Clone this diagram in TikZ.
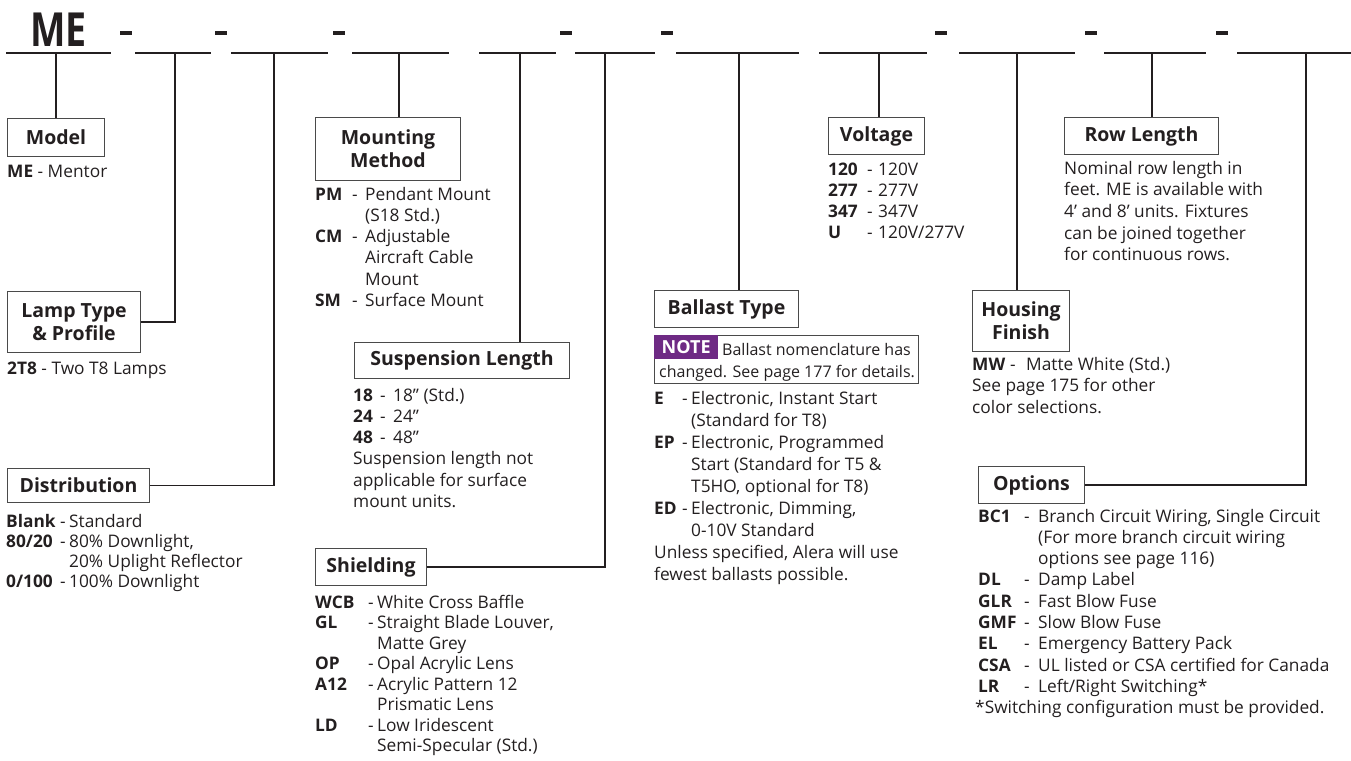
\documentclass[tikz,border=0pt]{standalone}
\usepackage{fontspec}
\setmainfont{Open Sans}
\usetikzlibrary{positioning}

\definecolor{ink}{HTML}{231F20}
\definecolor{boxline}{HTML}{4A4A4A}
\definecolor{notepurple}{HTML}{6E2A84}

\tikzset{
  hbox/.style={draw=boxline, line width=1pt, inner sep=0pt, anchor=north west,
    align=center, text=ink, font=\bfseries\fontsize{19.5}{23}\selectfont},
  lst/.style={inner sep=0pt, anchor=base west, text=ink, font=\fontsize{17.3}{#1}\selectfont},
  lst/.default=21.3,
  notetxt/.style={inner sep=0pt, anchor=base west, text=ink, font=\fontsize{16}{20}\selectfont},
  bar/.style={draw=ink, line width=2pt},
  link/.style={draw=ink, line width=1.8pt},
}

\begin{document}
\begin{tikzpicture}[x=1pt, y=-1pt]
  \useasboundingbox (0,0) rectangle (1351,760);

  % catalogue number line
  \node[anchor=base west, inner sep=0pt, text=ink, font=\bfseries\fontsize{47}{47}\selectfont]
    (me) at (30,47) {\scalebox{0.8}[1]{ME}};
  \foreach \a/\b in {6/111, 135/211, 231/328, 352/449, 479/556, 575/655,
                     676/799, 819/927, 959/1075, 1104/1206, 1237/1351}
    \draw[bar] (\a,53) -- (\b,53);
  \foreach \x in {120, 215, 333, 560, 661, 935, 1085, 1216}
    \fill[ink] (\x,31) rectangle ++(12,4);

  % stems
  \foreach \n/\x in {b1/56, b2/175, b3/274, b4/399, b5/520, b6/605,
                     b7/739, b8/879, b9/1017, b10/1152, b11/1306}
    \coordinate (\n) at (\x,53);

  % heading boxes
  \node[hbox, minimum width=97, minimum height=38] (model) at (7,118) {Model};
  \node[hbox, minimum width=133, minimum height=61] (lamp) at (7,291) {Lamp Type\\ \& Profile};
  \node[hbox, minimum width=142, minimum height=34] (distr) at (7,468) {Distribution};
  \node[hbox, minimum width=145, minimum height=63] (mount) at (315,117) {Mounting\\ Method};
  \node[hbox, minimum width=215, minimum height=36] (susp) at (354,342) {Suspension Length};
  \node[hbox, minimum width=111, minimum height=37] (shield) at (315,548) {Shielding};
  \node[hbox, minimum width=144, minimum height=37] (ballast) at (654,290) {Ballast Type};
  \node[hbox, minimum width=96, minimum height=37] (volt) at (828,117) {Voltage};
  \node[hbox, minimum width=97, minimum height=61] (house) at (972,290) {Housing\\ Finish};
  \node[hbox, minimum width=154, minimum height=37] (row) at (1064,117) {Row Length};
  \node[hbox, minimum width=106, minimum height=37] (opts) at (978,466) {Options};

  % connectors
  \draw[link] (b1) -- (b1 |- model.north);
  \draw[link] (lamp.east) -| (b2);
  \draw[link] (distr.east) -| (b3);
  \draw[link] (b4) -- (b4 |- mount.north);
  \draw[link] (b5) -- (b5 |- susp.north);
  \draw[link] (shield.east) -| (b6);
  \draw[link] (b7) -- (b7 |- ballast.north);
  \draw[link] (b8) -- (b8 |- volt.north);
  \draw[link] (b9) -- (b9 |- house.north);
  \draw[link] (b10) -- (b10 |- row.north);
  \draw[link] (opts.east) -| (b11);

  % lists
  \node[lst] (modell) at (7,177) {\textbf{ME} - Mentor};
  \node[lst] (lampl) at (7,374) {\textbf{2T8} - Two T8 Lamps};
  \node[lst=20] (distrl) at (6,527) {\begin{tabular}[t]{@{}p{54pt}@{}p{9pt}@{}l@{}}
    \textbf{Blank} & - & Standard\\
    \textbf{80/20} & - & 80\% Downlight,\\
     & & 20\% Uplight Reflector\\
    \textbf{0/100} & - & 100\% Downlight
  \end{tabular}};
  \node[lst] (mountl) at (315,200) {\begin{tabular}[t]{@{}p{37pt}@{}p{13pt}@{}l@{}}
    \textbf{PM} & - & Pendant Mount\\
     & & (S18 Std.)\\
    \textbf{CM} & - & Adjustable\\
     & & Aircraft Cable\\
     & & Mount\\
    \textbf{SM} & - & Surface Mount
  \end{tabular}};
  \node[lst] (suspl) at (353,401) {\begin{tabular}[t]{@{}p{27pt}@{}p{13pt}@{}l@{}}
    \textbf{18} & - & 18” (Std.)\\
    \textbf{24} & - & 24”\\
    \textbf{48} & - & 48”\\
    \multicolumn{3}{@{}l@{}}{Suspension length not}\\
    \multicolumn{3}{@{}l@{}}{applicable for surface}\\
    \multicolumn{3}{@{}l@{}}{mount units.}
  \end{tabular}};
  \node[lst=20.5] (shieldl) at (315,608) {\begin{tabular}[t]{@{}p{53pt}@{}p{9pt}@{}l@{}}
    \textbf{WCB} & - & White Cross Baffle\\
    \textbf{GL} & - & Straight Blade Louver,\\
     & & Matte Grey\\
    \textbf{OP} & - & Opal Acrylic Lens\\
    \textbf{A12} & - & Acrylic Pattern 12\\
     & & Prismatic Lens\\
    \textbf{LD} & - & Low Iridescent\\
     & & Semi-Specular (Std.)
  \end{tabular}};
  \node[lst=21] (voltl) at (828,175) {\begin{tabular}[t]{@{}p{39pt}@{}p{11pt}@{}l@{}}
    \textbf{120} & - & 120V\\
    \textbf{277} & - & 277V\\
    \textbf{347} & - & 347V\\
    \textbf{U} & - & 120V/277V
  \end{tabular}};

  % note under ballast type
  \node[draw=boxline, line width=1pt, inner sep=0pt, anchor=north west,
    minimum width=264, minimum height=48] (note) at (654,335) {};
  \node[fill=notepurple, text=white, inner sep=0pt, anchor=north west,
    minimum width=64, minimum height=24, font=\bfseries\fontsize{18}{18}\selectfont]
    (tag) at (note.north west) {NOTE};
  \node[notetxt] (notea) at (722,355) {Ballast nomenclature has};
  \node[notetxt] (noteb) at (659,377) {changed. See page 177 for details.};

  \node[lst=22] (ballastl) at (654,404) {\begin{tabular}[t]{@{}p{28pt}@{}p{9pt}@{}l@{}}
    \textbf{E} & - & Electronic, Instant Start\\
     & & (Standard for T8)\\
    \textbf{EP} & - & Electronic, Programmed\\
     & & Start (Standard for T5 \&\\
     & & T5HO, optional for T8)\\
    \textbf{ED} & - & Electronic, Dimming,\\
     & & 0-10V Standard\\
    \multicolumn{3}{@{}l@{}}{Unless specified, Alera will use}\\
    \multicolumn{3}{@{}l@{}}{fewest ballasts possible.}
  \end{tabular}};
  \node[lst=21.7] (rowl) at (1064,174) {\begin{tabular}[t]{@{}l@{}}
    Nominal row length in\\
    feet. ME is available with\\
    4’ and 8’ units. Fixtures\\
    can be joined together\\
    for continuous rows.
  \end{tabular}};
  \node[lst=21.7] (housel) at (972,370) {\begin{tabular}[t]{@{}p{38pt}@{}p{16pt}@{}l@{}}
    \textbf{MW} & - & Matte White (Std.)\\
    \multicolumn{3}{@{}l@{}}{See page 175 for other}\\
    \multicolumn{3}{@{}l@{}}{color selections.}
  \end{tabular}};
  \node[lst=21.3] (optsl) at (978,522) {\begin{tabular}[t]{@{}p{46pt}@{}p{14pt}@{}l@{}}
    \textbf{BC1} & - & Branch Circuit Wiring, Single Circuit\\
     & & (For more branch circuit wiring\\
     & & options see page 116)\\
    \textbf{DL} & - & Damp Label\\
    \textbf{GLR} & - & Fast Blow Fuse\\
    \textbf{GMF} & - & Slow Blow Fuse\\
    \textbf{EL} & - & Emergency Battery Pack\\
    \textbf{CSA} & - & UL listed or CSA certified for Canada\\
    \textbf{LR} & - & Left/Right Switching*\\
    \multicolumn{3}{@{}l@{}}{\hspace*{-3pt}*Switching configuration must be provided.}
  \end{tabular}};
\end{tikzpicture}
\end{document}
